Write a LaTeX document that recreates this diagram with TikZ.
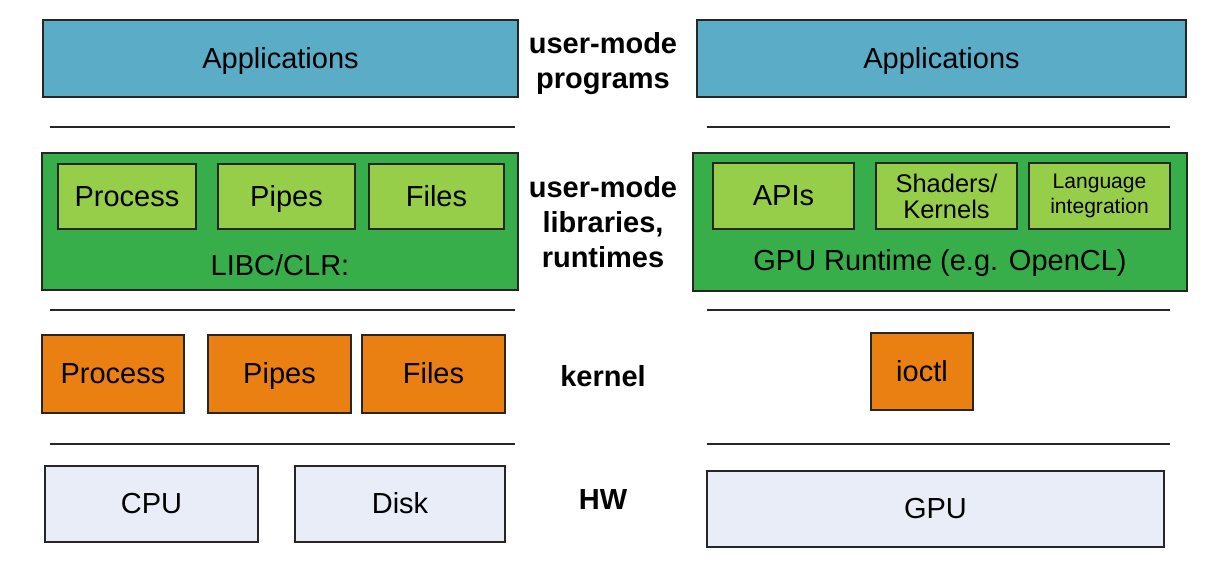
\documentclass[tikz,border=0pt]{standalone}
\usepackage{fontspec}
\setmainfont{Liberation Sans}
\definecolor{appblue}{HTML}{5BACC7}
\definecolor{libgreen}{HTML}{38AE4A}
\definecolor{litegreen}{HTML}{97CE49}
\definecolor{kernorange}{HTML}{EB8012}
\definecolor{hwgray}{HTML}{E8EDF7}
\definecolor{edgegray}{HTML}{262626}
\begin{document}
\begin{tikzpicture}[x=0.02cm, y=-0.02cm,
    box/.style={draw=edgegray, line width=0.7pt, inner sep=0pt, align=center,
        font=\fontsize{16.5}{19}\selectfont},
    blk/.style={box, text height=11.5pt, text depth=0.5pt},
    sep/.style={draw=edgegray, line width=1.3pt},
    layer/.style={align=center, font=\fontsize{16.5}{20}\selectfont\bfseries}]
    \useasboundingbox (0,0) rectangle (1220,563);

    % Aplicações
    \node[blk, fill=appblue, minimum width=9.5cm, minimum height=1.54cm] (appL) at (280.5,58.5) {Applications};
    \node[blk, fill=appblue, minimum width=9.78cm, minimum height=1.54cm] (appR) at (941.5,58.5) {Applications};

    % Bibliotecas / runtimes
    \node[box, fill=libgreen, minimum width=9.52cm, minimum height=2.74cm] (libL) at (280,221.5) {};
    \node[box, fill=libgreen, minimum width=9.88cm, minimum height=2.76cm] (libR) at (940,222) {};
    \node[blk, fill=litegreen, minimum width=2.76cm, minimum height=1.3cm] (procL) at (127,196.5) {Process};
    \node[blk, fill=litegreen, minimum width=2.74cm, minimum height=1.3cm] (pipeL) at (286.5,196.5) {Pipes};
    \node[blk, fill=litegreen, minimum width=2.7cm, minimum height=1.3cm] (fileL) at (436.5,196.5) {Files};
    \node[blk, fill=litegreen, minimum width=2.82cm, minimum height=1.32cm] (apis) at (783.5,196) {APIs};
    \node[box, fill=litegreen, minimum width=2.82cm, minimum height=1.32cm,
        font=\fontsize{14.5}{14.7}\selectfont] (shaders) at (946.5,196) {Shaders/\\Kernels};
    \node[box, fill=litegreen, minimum width=2.82cm, minimum height=1.32cm,
        font=\fontsize{12}{14.7}\selectfont] (lang) at (1099.5,196) {Language\\integration};
    \node[font=\fontsize{16.5}{19}\selectfont] (libc) at (280,265) {LIBC/CLR:};
    \node[font=\fontsize{16.5}{19}\selectfont] (gpurt) at (940,263) {GPU Runtime (e.g. OpenCL)};

    % Kernel
    \node[blk, fill=kernorange, minimum width=2.84cm, minimum height=1.56cm] (procK) at (113,374) {Process};
    \node[blk, fill=kernorange, minimum width=2.86cm, minimum height=1.56cm] (pipeK) at (279.5,374) {Pipes};
    \node[blk, fill=kernorange, minimum width=2.86cm, minimum height=1.56cm] (fileK) at (433.5,374) {Files};
    \node[blk, fill=kernorange, minimum width=2.04cm, minimum height=1.54cm] (ioctl) at (922,371.5) {ioctl};

    % Hardware
    \node[blk, fill=hwgray, minimum width=4.26cm, minimum height=1.52cm] (cpu) at (151.5,504) {CPU};
    \node[blk, fill=hwgray, minimum width=4.2cm, minimum height=1.52cm] (disk) at (400,504) {Disk};
    \node[blk, fill=hwgray, minimum width=9.14cm, minimum height=1.52cm] (gpu) at (935.5,509) {GPU};

    % Separadores
    \foreach \y in {127,310,444} {
        \draw[sep] (50,\y) -- (515,\y);
        \draw[sep] (707,\y) -- (1170,\y);
    }

    % Rótulos das camadas
    \node[layer] (lprog) at (603,63.5) {user-mode\\programs};
    \node[layer] (llib) at (603,222) {user-mode\\libraries,\\runtimes};
    \node[layer] (lkern) at (603,376) {kernel};
    \node[layer] (lhw) at (603,500) {HW};
\end{tikzpicture}
\end{document}
